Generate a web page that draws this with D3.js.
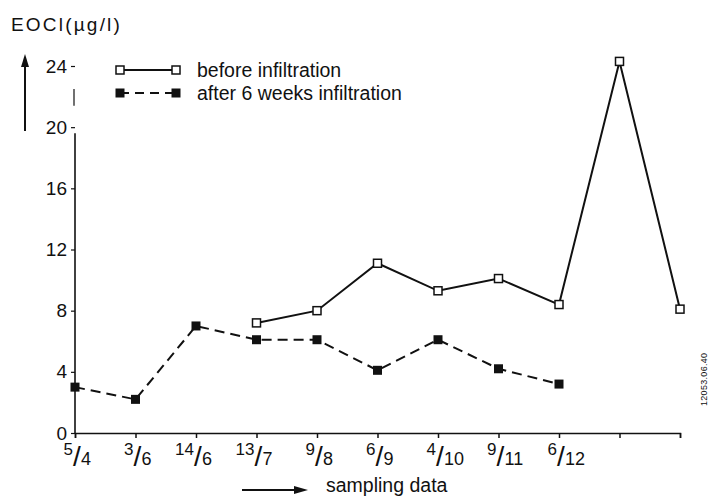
<!DOCTYPE html>
<html>
<head>
<meta charset="utf-8">
<script src="https://cdn.jsdelivr.net/npm/d3@7"></script>
<style>
  html, body { margin: 0; padding: 0; background: #fff; }
  svg { display: block; font-family: "Liberation Sans", Arial, Helvetica, sans-serif; }
</style>
</head>
<body>
<svg id="chart" width="709" height="497"></svg>
<script>
// Sampling positions along the time axis (last two carry no date label)
const sampleKeys = ["s1", "s2", "s3", "s4", "s5", "s6", "s7", "s8", "s9", "s10", "s11"];
const dayLabels   = ["5", "3", "14", "13", "9", "6", "4", "9", "6", "", ""];
const monthLabels = ["4", "6", "6", "7", "8", "9", "10", "11", "12", "", ""];

// EOCl concentrations in µg/l
const beforeInfiltration = [null, null, null, 7.2, 8.0, 11.1, 9.3, 10.1, 8.4, 24.3, 8.1];
const afterInfiltration  = [3.0, 2.2, 7.0, 6.1, 6.1, 4.1, 6.1, 4.2, 3.2, null, null];

const yTicks = [0, 4, 8, 12, 16, 20, 24];

const svg = d3.select("#chart");

const x = d3.scalePoint().domain(sampleKeys).range([75, 680]);
const y = d3.scaleLinear().domain([0, 24]).range([433, 66]);

// x axis
const xAxis = svg.append("g")
  .attr("transform", `translate(0,${y(0)})`)
  .call(d3.axisBottom(x).tickSize(5).tickSizeOuter(5).tickFormat(""));
xAxis.selectAll("path, line").attr("stroke", "#111").attr("stroke-width", 1.5);

// fraction-style date labels: day over month
const lbl = svg.append("g").attr("fill", "#111");
sampleKeys.forEach((k, i) => {
  if (!dayLabels[i]) return;
  const cx = x(k);
  lbl.append("text").attr("x", cx - 2).attr("y", 455)
    .attr("text-anchor", "end").attr("font-size", 17).text(dayLabels[i]);
  lbl.append("text").attr("x", cx + 2).attr("y", 466)
    .attr("text-anchor", "middle").attr("font-size", 28).attr("font-weight", 300)
    .text("/");
  lbl.append("text").attr("x", cx + 6).attr("y", 465)
    .attr("text-anchor", "start").attr("font-size", 18).text(monthLabels[i]);
});

// y axis
const yAxis = svg.append("g")
  .attr("transform", `translate(${x(sampleKeys[0])},0)`)
  .call(d3.axisLeft(y).tickValues(yTicks).tickSize(4).tickPadding(4));
yAxis.select(".domain").remove();
yAxis.selectAll("line").attr("stroke", "#111").attr("stroke-width", 1.2);
yAxis.selectAll("text").attr("font-size", 19).attr("fill", "#111")
  .attr("font-family", "Liberation Sans, Arial, sans-serif");

const axisX = x(sampleKeys[0]);
svg.append("line").attr("x1", axisX).attr("x2", axisX)
  .attr("y1", y(0)).attr("y2", y(19.6)).attr("stroke", "#111").attr("stroke-width", 1.6);
svg.append("line").attr("x1", axisX - 1).attr("x2", axisX - 1)
  .attr("y1", y(21.4)).attr("y2", y(22.5)).attr("stroke", "#111").attr("stroke-width", 1.2);

// y axis title with upward arrow
svg.append("text").attr("x", 11).attr("y", 31).attr("font-size", 19)
  .attr("fill", "#111").attr("letter-spacing", 2.2).text("EOCl(µg/l)");
svg.append("line").attr("x1", 25).attr("x2", 25).attr("y1", 131).attr("y2", 64)
  .attr("stroke", "#111").attr("stroke-width", 2);
svg.append("path").attr("d", "M25,54 L21,67 L29,67 Z").attr("fill", "#111");

// x axis title with arrow
svg.append("line").attr("x1", 242).attr("x2", 296).attr("y1", 490).attr("y2", 490)
  .attr("stroke", "#111").attr("stroke-width", 2);
svg.append("path").attr("d", "M308,490 L294,486 L294,494 Z").attr("fill", "#111");
svg.append("text").attr("x", 326).attr("y", 492).attr("font-size", 19.5)
  .attr("fill", "#111").text("sampling data");

// series lines
const lineGen = d3.line()
  .defined(d => d.v !== null)
  .x(d => x(d.k))
  .y(d => y(d.v));

const beforePts = sampleKeys.map((k, i) => ({ k, v: beforeInfiltration[i] }));
const afterPts  = sampleKeys.map((k, i) => ({ k, v: afterInfiltration[i] }));

svg.append("path").datum(afterPts).attr("d", lineGen)
  .attr("fill", "none").attr("stroke", "#111").attr("stroke-width", 2)
  .attr("stroke-dasharray", "10,6");
svg.append("path").datum(beforePts).attr("d", lineGen)
  .attr("fill", "none").attr("stroke", "#111").attr("stroke-width", 2);

// markers
const sq = 9;
svg.append("g").selectAll("rect")
  .data(afterPts.filter(d => d.v !== null)).join("rect")
  .attr("x", d => x(d.k) - sq / 2).attr("y", d => y(d.v) - sq / 2)
  .attr("width", sq).attr("height", sq).attr("fill", "#111");
svg.append("g").selectAll("rect")
  .data(beforePts.filter(d => d.v !== null)).join("rect")
  .attr("x", d => x(d.k) - (sq - 1) / 2).attr("y", d => y(d.v) - (sq - 1) / 2)
  .attr("width", sq - 1).attr("height", sq - 1)
  .attr("fill", "#fff").attr("stroke", "#111").attr("stroke-width", 1.5);

// legend
const legend = svg.append("g");
const legendRows = [
  { label: "before infiltration", y: 70, dash: null, filled: false },
  { label: "after 6 weeks infiltration", y: 93, dash: "9,6", filled: true }
];
legendRows.forEach(r => {
  legend.append("line").attr("x1", 120).attr("x2", 176).attr("y1", r.y).attr("y2", r.y)
    .attr("stroke", "#111").attr("stroke-width", 2)
    .attr("stroke-dasharray", r.dash);
  [120, 176].forEach(cx => {
    if (r.filled) {
      legend.append("rect").attr("x", cx - sq / 2).attr("y", r.y - sq / 2)
        .attr("width", sq).attr("height", sq).attr("fill", "#111");
    } else {
      legend.append("rect").attr("x", cx - (sq - 1) / 2).attr("y", r.y - (sq - 1) / 2)
        .attr("width", sq - 1).attr("height", sq - 1)
        .attr("fill", "#fff").attr("stroke", "#111").attr("stroke-width", 1.5);
    }
  });
  legend.append("text").attr("x", 197).attr("y", r.y + 7).attr("font-size", 19.5)
    .attr("fill", "#111").text(r.label);
});

// figure reference number along the right margin
svg.append("text")
  .attr("transform", "translate(707,406) rotate(-90)")
  .attr("font-size", 9).attr("fill", "#111").attr("letter-spacing", 0.3)
  .text("12053.06.40");
</script>
</body>
</html>
